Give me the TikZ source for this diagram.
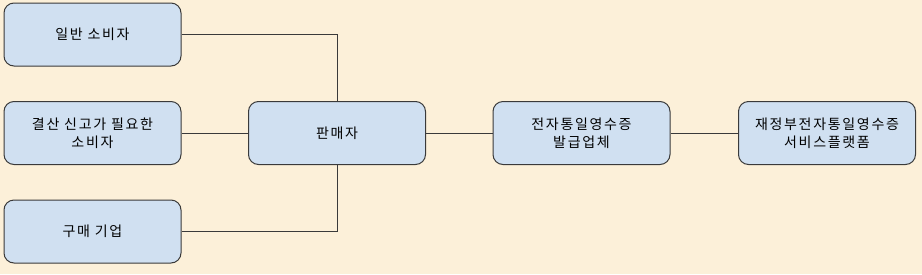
\documentclass[tikz,border=0pt]{standalone}
\usepackage{fontspec}
\setmainfont[LetterSpace=12]{Noto Sans CJK KR}
\usetikzlibrary{positioning}
\definecolor{bgcream}{HTML}{FCF0D9}
\definecolor{boxblue}{HTML}{D0E0F1}
\definecolor{edgegray}{HTML}{3A3A3A}

\begin{document}
\begin{tikzpicture}[x=1pt, y=-1pt,
    box/.style={draw=edgegray, fill=boxblue, line width=1pt, rounded corners=10pt,
        minimum width=177pt, minimum height=63pt, align=center,
        font=\fontsize{14}{18}\selectfont},
    link/.style={draw=edgegray, line width=1pt}]
    % 배경
    \fill[bgcream] (0, 0) rectangle (922, 274);
    \useasboundingbox (0, 0) rectangle (922, 274);

    % 소비자 쪽
    \node[box] (general) at (92.5, 34.5) {일반 소비자};
    \node[box] (filer) at (92.5, 133) {결산 신고가 필요한\\소비자};
    \node[box] (company) at (92.5, 231.5) {구매 기업};

    % 판매자와 발급 쪽
    \node[box] (seller) at (337, 133) {판매자};
    \node[box] (issuer) at (581.5, 133) {전자통일영수증\\발급업체};
    \node[box] (platform) at (827, 133) {재정부전자통일영수증\\서비스플랫폼};

    % 연결선
    \draw[link] (general.east) -| (seller.north);
    \draw[link] (filer.east) -- (seller.west);
    \draw[link] (company.east) -| (seller.south);
    \draw[link] (seller.east) -- (issuer.west);
    \draw[link] (issuer.east) -- (platform.west);
\end{tikzpicture}
\end{document}
